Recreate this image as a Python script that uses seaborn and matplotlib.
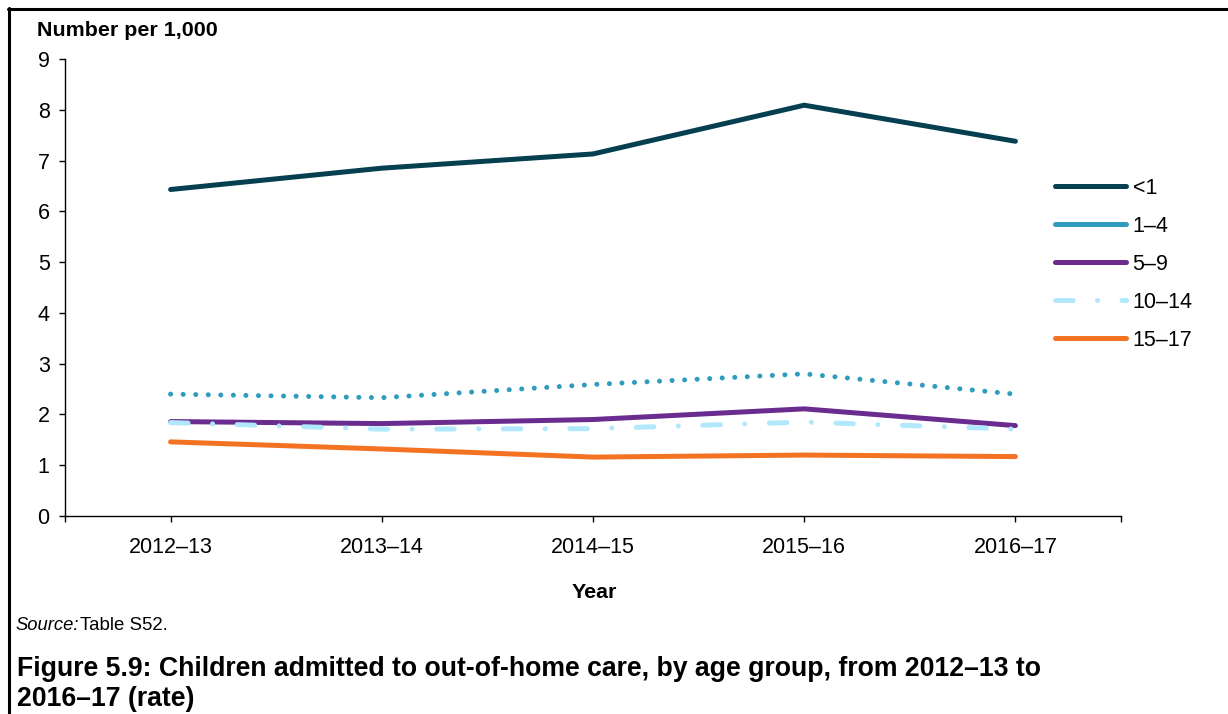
import matplotlib
matplotlib.use("Agg")
import matplotlib.pyplot as plt
from matplotlib.lines import Line2D
import seaborn as sns
import pandas as pd

# Rate of children admitted to out-of-home care (number per 1,000), by age group
years = ["2012–13", "2013–14", "2014–15", "2015–16", "2016–17"]
age_groups = ["<1", "1–4", "5–9", "10–14", "15–17"]
rate_under1 = [6.43, 6.85, 7.13, 8.09, 7.38]
rate_1_4 = [2.40, 2.33, 2.59, 2.80, 2.40]
rate_5_9 = [1.86, 1.82, 1.90, 2.11, 1.78]
rate_10_14 = [1.84, 1.71, 1.72, 1.85, 1.71]
rate_15_17 = [1.46, 1.32, 1.16, 1.20, 1.17]
y_ticks = list(range(0, 10))

series = [rate_under1, rate_1_4, rate_5_9, rate_10_14, rate_15_17]
colors = ["#053f50", "#2f9bbd", "#6a2c8f", "#b1e8fb", "#f47322"]
line_w = 3.6
styles = ["-", (0, (0.01, 2.5)), "-", (0, (3.5, 4.9, 0.01, 4.9)), "-"]

sns.set_theme(style="ticks")
plt.rcParams["font.family"] = ["Liberation Sans", "DejaVu Sans"]
plt.rcParams["text.color"] = "black"
plt.rcParams["axes.labelcolor"] = "black"
plt.rcParams["xtick.color"] = "black"
plt.rcParams["ytick.color"] = "black"

tick_fs = 15.5
label_fs = 15.4

fig = plt.figure(figsize=(12.28, 7.14), dpi=100)
ax = fig.add_axes([65 / 1228, 1 - 516 / 714, (1121 - 65) / 1228, (516 - 59) / 714])

for i, (label, vals) in enumerate(zip(age_groups, series)):
    df = pd.DataFrame({"Year": years, "Rate": vals})
    sns.lineplot(data=df, x="Year", y="Rate", ax=ax, color=colors[i],
                 linewidth=line_w, linestyle=styles[i], legend=False,
                 solid_capstyle="round", dash_capstyle="round", zorder=3 + i)

ax.set_xlim(-0.5, len(years) - 0.5)
ax.set_ylim(0, 9)
ax.set_yticks(y_ticks)
ax.set_xticks(range(len(years)))
ax.set_xticklabels(years)
ax.set_xticks([-0.5, len(years) - 0.5], minor=True)
ax.set_xlabel("")
ax.set_ylabel("")

for side in ["top", "right"]:
    ax.spines[side].set_visible(False)
for side in ["left", "bottom"]:
    ax.spines[side].set_color("black")
    ax.spines[side].set_linewidth(1.0)

ax.tick_params(axis="y", direction="out", length=4, width=1.0, color="black",
               labelsize=tick_fs, pad=7, labelcolor="black")
ax.tick_params(axis="x", which="both", direction="out", length=4, width=1.0,
               color="black", labelsize=tick_fs, pad=11, labelcolor="black")

# Legend: 1–4 is shown with a solid key
handles = [
    Line2D([], [], color=colors[0], lw=line_w, solid_capstyle="round"),
    Line2D([], [], color=colors[1], lw=line_w, solid_capstyle="round"),
    Line2D([], [], color=colors[2], lw=line_w, solid_capstyle="round"),
    Line2D([], [], color=colors[3], lw=line_w, linestyle=styles[3],
           dash_capstyle="round"),
    Line2D([], [], color=colors[4], lw=line_w, solid_capstyle="round"),
]
fig.legend(handles, age_groups, loc="upper left",
           bbox_to_anchor=(1055 / 1228, 1 - 178 / 714), frameon=False,
           fontsize=tick_fs, handlelength=3.3, handletextpad=0.3,
           labelspacing=0.79, borderpad=0, borderaxespad=0)

fig.text(37 / 1228, 1 - 30 / 714, "Number per 1,000", fontsize=label_fs,
         fontweight="bold", ha="left", va="center")
fig.text(594 / 1228, 1 - 592 / 714, "Year", fontsize=label_fs, fontweight="bold",
         ha="center", va="center")
fig.text(15 / 1228, 1 - 626 / 714, "Source:", fontsize=13.2, fontstyle="italic",
         ha="left", va="center")
fig.text(80 / 1228, 1 - 626 / 714, "Table S52.", fontsize=13.4,
         ha="left", va="center")
fig.text(17 / 1228, 1 - 684 / 714,
         "Figure 5.9: Children admitted to out-of-home care, by age group, from 2012–13 to\n2016–17 (rate)",
         fontsize=19.15, fontweight="bold", ha="left", va="center", linespacing=1.18)

# Frame along the top and left edges
fig.add_artist(Line2D([8 / 1228, 1], [1 - 8.5 / 714, 1 - 8.5 / 714],
                      transform=fig.transFigure, color="black", lw=2.2))
fig.add_artist(Line2D([8.5 / 1228, 8.5 / 1228], [0, 1 - 7.5 / 714],
                      transform=fig.transFigure, color="black", lw=2.2))

fig.savefig("out.png", dpi=100)
